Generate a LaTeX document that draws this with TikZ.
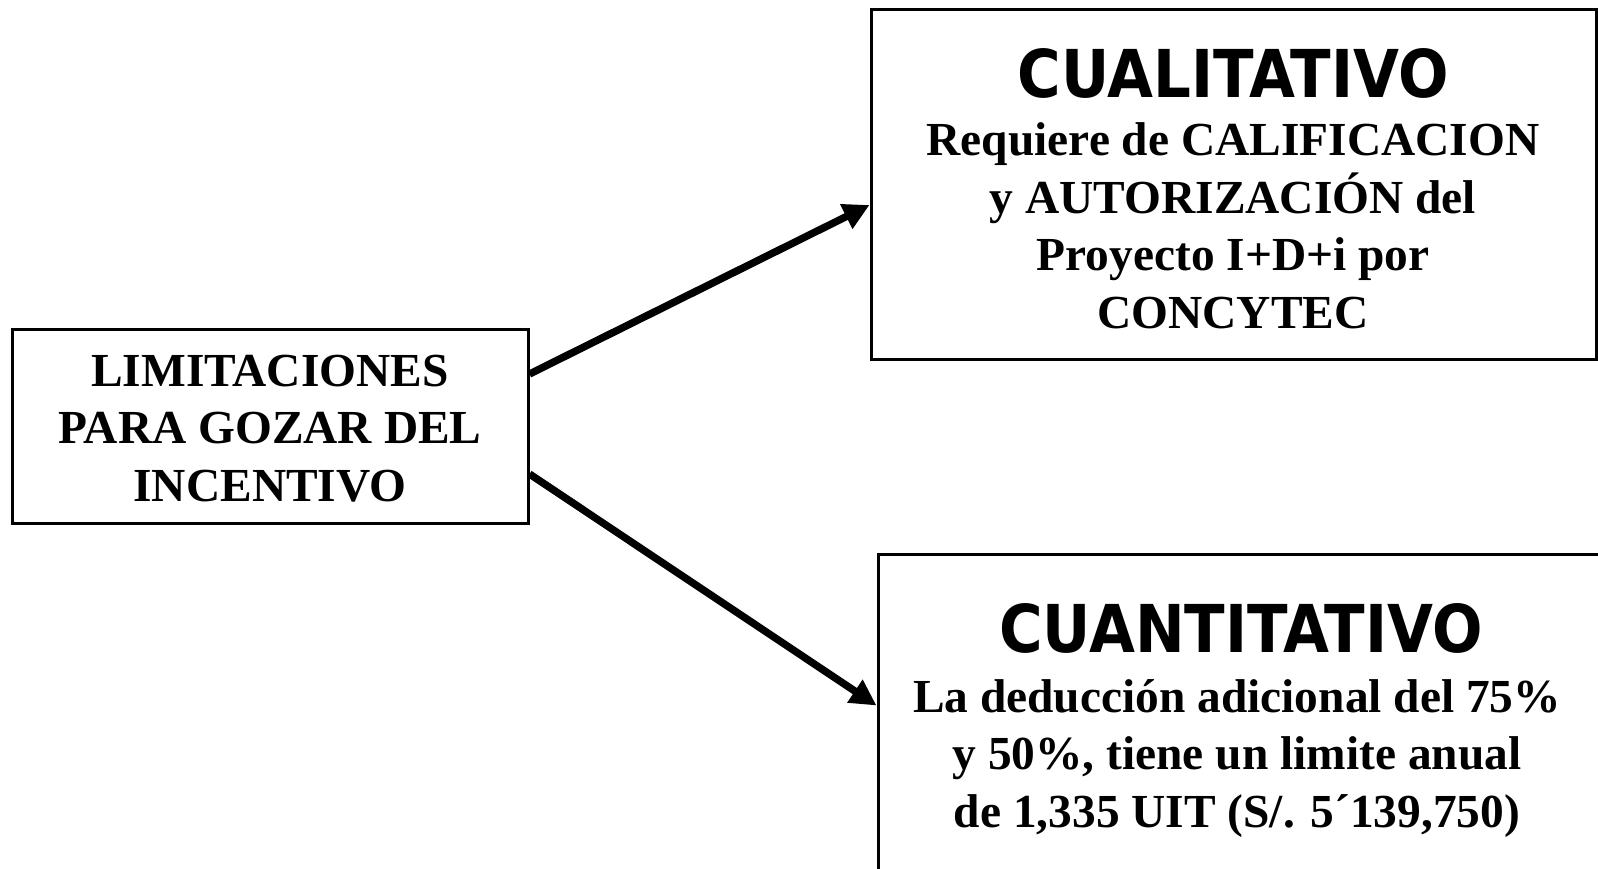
\documentclass[tikz,border=0pt]{standalone}
\usepackage{fontspec}
\setmainfont{Liberation Serif}
\newfontfamily\titlefont{DejaVu Sans}[FakeStretch=0.9]
\usetikzlibrary{fit,arrows.meta}
\begin{document}
\begin{tikzpicture}[x=0.5pt,y=-0.5pt,
  box/.style={draw, line width=1.5pt, inner sep=0pt},
  body/.style={font=\fontsize{23.7}{28.7}\selectfont\bfseries, align=center, inner sep=0pt, anchor=base},
  ttl/.style={font=\titlefont\fontsize{33}{33}\selectfont\bfseries, inner sep=0pt, anchor=base},
  arr/.style={line width=3.7pt, -{Triangle[length=13pt,width=13pt]}}]
\useasboundingbox (0,0) rectangle (1598,868);
% boxes
\node[box, fit={(12,329)(528,523)}] (lim) {};
\node[box, fit={(871,9)(1596,359)}] (cual) {};
\node[box, fit={(878,554)(1640,920)}] (cuan) {};
% texts (base anchor = baseline of the last line)
\node[body] (limtxt) at (270,501) {LIMITACIONES\\PARA GOZAR DEL\\INCENTIVO};
\node[ttl] (cualttl) at (1233,97) {CUALITATIVO};
\node[body] (cualtxt) at (1233,328) {Requiere de CALIFICACION\\y AUTORIZACIÓN del\\Proyecto I+D+i por\\CONCYTEC};
\node[ttl] (cuanttl) at (1241,652) {CUANTITATIVO};
\node[body] (cuantxt) at (1237,827) {La deducción adicional del 75\%\\y 50\%, tiene un limite anual\\de 1,335 UIT (S/. 5´139,750)};
% arrows
\draw[arr] ([yshift=26pt]lim.east) -- ([yshift=-10.5pt]cual.west);
\draw[arr] ([yshift=-24pt]lim.east) -- ([yshift=-76.5pt]cuan.north west);
\end{tikzpicture}
\end{document}
